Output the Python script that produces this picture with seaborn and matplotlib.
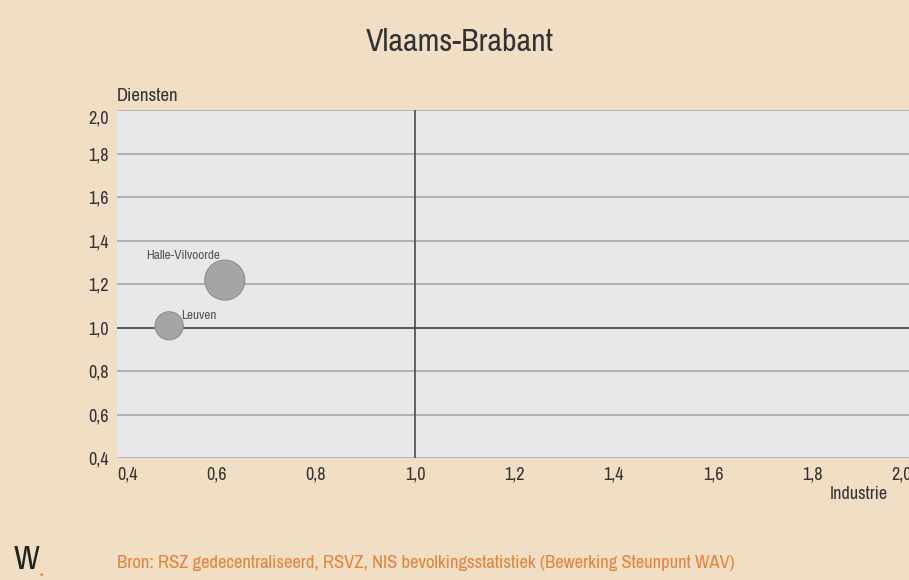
import numpy as np
import pandas as pd
import seaborn as sns
import matplotlib.pyplot as plt
from matplotlib import font_manager

# Data
regions = ["Halle-Vilvoorde", "Leuven"]
industrie = [0.617, 0.505]
diensten = [1.218, 1.008]
bubble_size = [830, 410]

df = pd.DataFrame({"regio": regions, "x": industrie, "y": diensten, "s": bubble_size})

sns.set_style("white")
names = {f.name for f in font_manager.fontManager.ttflist}
narrow = [n for n in sorted(names) if "Narrow" in n or "Condensed" in n]
plt.rcParams["font.family"] = narrow[:1] + ["Liberation Sans", "DejaVu Sans"]

bg = "#F0DEC5"
fig = plt.figure(figsize=(9.09, 5.8), dpi=100, facecolor=bg)
ax = fig.add_axes([0.1287, 0.2103, 0.8746, 0.6])
ax.set_facecolor("#E8E8EA")

sns.scatterplot(
    data=df, x="x", y="y", size="s",
    sizes={830: 830, 410: 410},
    color="#A3A5A7", edgecolor="#8E8E8E", linewidth=0.8,
    legend=False, ax=ax, zorder=5
)

ax.set_xlim(0.4, 2.0)
ax.set_ylim(0.4, 2.0)
yt = np.arange(0.4, 2.01, 0.2)
ax.set_xticks(yt)
ax.set_yticks(yt)
ax.set_xticklabels([f"{v:.1f}".replace(".", ",") for v in yt])
ax.set_yticklabels([f"{v:.1f}".replace(".", ",") for v in yt])
for v in yt:
    ax.axhline(v, color="#A8A8A8", lw=1.2, zorder=1)
ax.axhline(1.0, color="#4A4A4A", lw=1.2, zorder=2)
ax.axvline(1.0, color="#4A4A4A", lw=1.2, zorder=2)

for s in ax.spines.values():
    s.set_visible(False)
ax.tick_params(length=0, labelsize=13, colors="#333333", pad=6)
ax.set_xlabel("")
ax.set_ylabel("")
xl = ax.get_xticklabels()
xl[0].set_ha("left")
xl[-1].set_ha("right")
ax.get_yticklabels()[-1].set_va("top")

# labels
ax.text(0.533, 1.305, "Halle-Vilvoorde", fontsize=9.5, color="#555555", ha="center", va="bottom")
ax.text(0.53, 1.03, "Leuven", fontsize=9.5, color="#555555", ha="left", va="bottom")

fig.text(0.506, 0.927, "Vlaams-Brabant", fontsize=23, color="#333333", ha="center", va="center")
fig.text(0.1287, 0.835, "Diensten", fontsize=13.5, color="#333333", ha="left", va="center")
fig.text(0.977, 0.148, "Industrie", fontsize=13, color="#333333", ha="right", va="center")
fig.text(0.1287, 0.03, "Bron: RSZ gedecentraliseerd, RSVZ, NIS bevolkingsstatistiek (Bewerking Steunpunt WAV)",
         fontsize=13.4, color="#E8823A", ha="left", va="center")
fig.text(0.015, 0.035, "W", fontsize=24, color="#222222", ha="left", va="center")
fig.text(0.045, 0.008, "\u2022", fontsize=9, color="#E8823A", ha="center", va="center")

fig.savefig("out.png", dpi=100, facecolor=bg)
